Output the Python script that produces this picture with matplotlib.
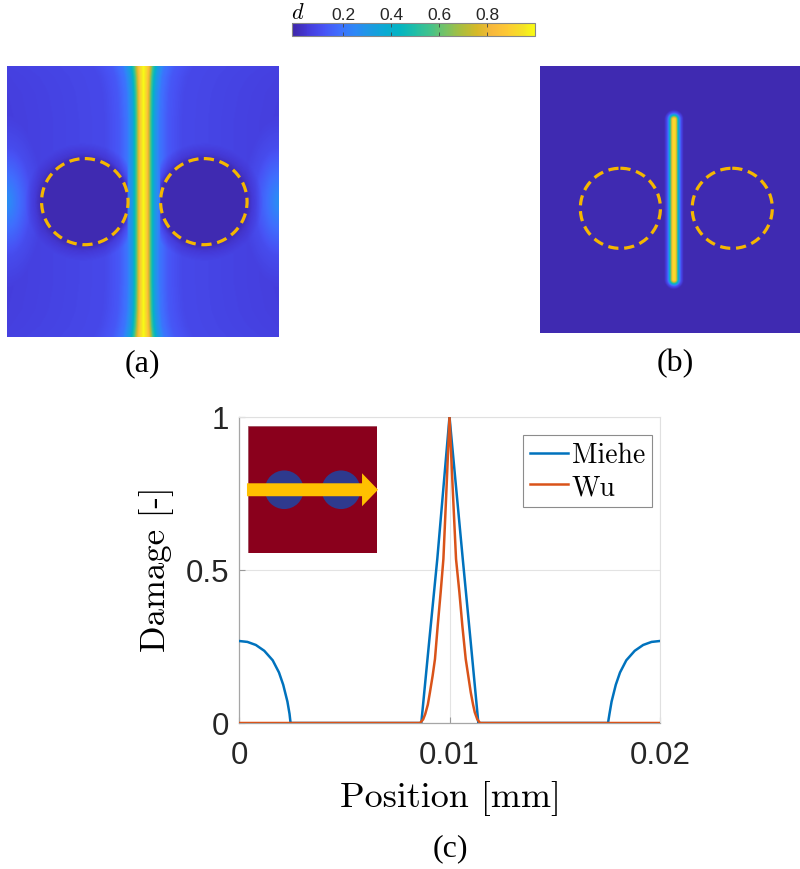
import numpy as np
import matplotlib
matplotlib.use("Agg")
import matplotlib.pyplot as plt
from matplotlib.colors import LinearSegmentedColormap, Normalize
from matplotlib.patches import Ellipse, Rectangle, Polygon
from matplotlib.cm import ScalarMappable

plt.rcParams["mathtext.fontset"] = "cm"

# ---------------- data ----------------
# line profiles of panel (c)
miehe_x = [0.0, 0.0004, 0.0008, 0.0012, 0.0016, 0.0019, 0.0021, 0.0023, 0.0024, 0.00245,
           0.00866, 0.00904, 0.00942, 0.0100, 0.01063, 0.01100, 0.01137,
           0.01753, 0.0176, 0.0177, 0.0179, 0.0181, 0.0184, 0.0188, 0.0192, 0.0196, 0.0200]
miehe_y = [0.268, 0.265, 0.255, 0.236, 0.205, 0.165, 0.125, 0.07, 0.03, 0.0,
           0.0, 0.27, 0.536, 1.0, 0.536, 0.27, 0.0,
           0.0, 0.03, 0.07, 0.125, 0.165, 0.205, 0.236, 0.255, 0.265, 0.268]
wu_x = [0.0, 0.0086, 0.00875, 0.00885, 0.00897, 0.00907, 0.00920, 0.00931, 0.00944, 0.00958,
        0.00971, 0.00986, 0.0100, 0.01015, 0.01031, 0.01047, 0.01061, 0.01077, 0.01090,
        0.01101, 0.01112, 0.0112, 0.01132, 0.01145, 0.0200]
wu_y = [0.0, 0.0, 0.012, 0.03, 0.06, 0.10, 0.155, 0.209, 0.318, 0.427,
        0.536, 0.77, 1.0, 0.77, 0.536, 0.427, 0.318, 0.209, 0.15,
        0.10, 0.06, 0.035, 0.012, 0.0, 0.0]
series_labels = ["Miehe", "Wu"]
x_ticks = [0, 0.01, 0.02]
x_ticklabels = ["0", "0.01", "0.02"]
y_ticks = [0, 0.5, 1]
y_ticklabels = ["0", "0.5", "1"]
cbar_ticks = [0.2, 0.4, 0.6, 0.8]

# panel (a) damage field description (fractions of the square domain)
a_crack_u = 0.502
a_crack_dist = [0.0, 0.01, 0.018, 0.027, 0.04, 0.06, 0.09, 0.14, 0.5]
a_crack_val = [1.0, 0.92, 0.78, 0.55, 0.33, 0.20, 0.13, 0.09, 0.06]
a_crack_v = [0.0, 0.04, 0.1, 0.2, 0.8, 0.9, 0.96, 1.0]
a_crack_widen = [1.3, 1.15, 1.05, 1.0, 1.0, 1.05, 1.15, 1.3]
a_background = 0.06
a_edge_r = [0.0, 0.5, 1.0, 1.6]
a_edge_val = [0.27, 0.18, 0.10, 0.06]
a_circles = [(0.285, 0.502, 0.159), (0.7225, 0.502, 0.159)]
a_circle_inner = 0.0
a_halo_d = [-1.0, 0.0, 0.02, 0.06]
a_halo_f = [0.0, 0.0, 0.5, 1.0]

# panel (b) damage field description
b_crack_u = 0.502
b_crack_v0, b_crack_v1 = 0.20, 0.80
b_crack_dist = [0.0, 0.007, 0.013, 0.019, 0.026, 0.036]
b_crack_val = [0.97, 0.85, 0.55, 0.30, 0.10, 0.0]
b_circles = [(0.301, 0.533, 0.150), (0.720, 0.533, 0.150)]

# ---------------- parula-like colormap ----------------
parula_pts = [
    (0.000, (0.2422, 0.1504, 0.6603)),
    (0.063, (0.2691, 0.2308, 0.8538)),
    (0.127, (0.2810, 0.3228, 0.9579)),
    (0.190, (0.2500, 0.4300, 0.9950)),
    (0.254, (0.1800, 0.5300, 0.9700)),
    (0.317, (0.1137, 0.6004, 0.8912)),
    (0.381, (0.0400, 0.6660, 0.8300)),
    (0.444, (0.0140, 0.7081, 0.7580)),
    (0.508, (0.1300, 0.7450, 0.6500)),
    (0.571, (0.2718, 0.7623, 0.5395)),
    (0.635, (0.4780, 0.7611, 0.3843)),
    (0.698, (0.6724, 0.7432, 0.2425)),
    (0.762, (0.8394, 0.7262, 0.1549)),
    (0.825, (0.9728, 0.7233, 0.2379)),
    (0.889, (0.9942, 0.7922, 0.2031)),
    (0.952, (0.9603, 0.8884, 0.1471)),
    (1.000, (0.9769, 0.9839, 0.0805)),
]
parula = LinearSegmentedColormap.from_list("parula", parula_pts)

fig = plt.figure(figsize=(8, 8.7), dpi=100)
W, H = 800.0, 870.0


def px_axes(x0, y0, x1, y1):
    return fig.add_axes([x0 / W, 1 - y1 / H, (x1 - x0) / W, (y1 - y0) / H])


# ---------------- panel (a) ----------------
n = 300
g = (np.arange(n) + 0.5) / n
U, V = np.meshgrid(g, g)
widen = np.interp(V, a_crack_v, a_crack_widen)
crack_a = np.interp(np.abs(U - a_crack_u) / widen, a_crack_dist, a_crack_val)
edge_d = np.minimum(U, 1 - U)
r_edge = np.sqrt((edge_d / 0.09) ** 2 + ((V - 0.5) / 0.2) ** 2)
bg = np.maximum(a_background, np.interp(r_edge, a_edge_r, a_edge_val))
factor = np.ones_like(U)
for cx, cy, r in a_circles:
    d = np.sqrt((U - cx) ** 2 + (V - cy) ** 2) - r
    factor = np.minimum(factor, np.interp(d, a_halo_d, a_halo_f))
field_a = a_circle_inner + (np.maximum(crack_a, bg) - a_circle_inner) * np.maximum(factor, 0.0)
field_a = np.maximum(field_a, np.where(crack_a > 0.2, crack_a, 0.0))

ax_a = px_axes(7.3, 66.7, 279.3, 337.5)
ax_a.imshow(field_a, cmap=parula, vmin=-0.013, vmax=1.0, extent=[0, 1, 1, 0],
            interpolation="bilinear", aspect="auto")
for cx, cy, r in a_circles:
    ax_a.add_patch(Ellipse((cx, cy), 2 * r, 2 * r, fill=False, ec="#F5B700",
                           lw=2.3, ls=(0, (3.2, 1.8))))
ax_a.set_xlim(0, 1)
ax_a.set_ylim(1, 0)
ax_a.axis("off")

# ---------------- panel (b) ----------------
vv = np.clip(V, b_crack_v0, b_crack_v1)
dist_b = np.sqrt((U - b_crack_u) ** 2 + (V - vv) ** 2)
field_b = np.interp(dist_b, b_crack_dist, b_crack_val)
ax_b = px_axes(540, 67, 807, 334)
ax_b.imshow(field_b, cmap=parula, vmin=-0.013, vmax=1.0, extent=[0, 1, 1, 0],
            interpolation="bilinear", aspect="auto")
for cx, cy, r in b_circles:
    ax_b.add_patch(Ellipse((cx, cy), 2 * r, 2 * r, fill=False, ec="#F5B700",
                           lw=2.3, ls=(0, (3.2, 1.8))))
ax_b.set_xlim(0, 1)
ax_b.set_ylim(1, 0)
ax_b.axis("off")

# ---------------- colorbar ----------------
cax = px_axes(292.3, 24, 535, 37.3)
sm = ScalarMappable(norm=Normalize(-0.013, 1.0), cmap=parula)
cb = fig.colorbar(sm, cax=cax, orientation="horizontal", ticks=cbar_ticks)
cb.ax.xaxis.set_ticks_position("both")
cb.ax.tick_params(axis="x", direction="in", length=3, width=0.6, color="#444444",
                  labeltop=True, labelbottom=False, labelsize=12.5, pad=1,
                  labelcolor="#262626")
cb.ax.set_xticklabels([f"{t:.1f}" for t in cbar_ticks])
for lab in cb.ax.get_xticklabels():
    lab.set_family("Liberation Sans")
cb.outline.set_edgecolor("#888888")
cb.outline.set_linewidth(0.8)
fig.text(298 / W, 1 - 13 / H, "$d$", ha="center", va="center", size=16)

# ---------------- panel labels ----------------
for txt, x, y in [("(a)", 142, 364), ("(b)", 675, 364), ("(c)", 450, 849)]:
    fig.text(x / W, 1 - y / H, txt, ha="center", va="center",
             family="Liberation Serif", size=23)

# ---------------- panel (c) ----------------
ax = px_axes(239, 418, 660, 724)
ax.plot(miehe_x, miehe_y, color="#0072BD", lw=1.8, label=series_labels[0], zorder=3)
ax.plot(wu_x, wu_y, color="#D95319", lw=1.8, label=series_labels[1], zorder=4)
ax.set_xlim(0, 0.02)
ax.set_ylim(0, 1)
ax.set_xticks(x_ticks)
ax.set_xticklabels(x_ticklabels)
ax.set_yticks(y_ticks)
ax.set_yticklabels(y_ticklabels)
ax.grid(True, color="#e3e3e3", lw=0.8)
ax.set_axisbelow(True)
ax.tick_params(direction="in", length=4, width=0.8, color="#999999",
               labelsize=22.5, labelcolor="#262626")
ax.tick_params(axis="x", pad=12)
ax.tick_params(axis="y", pad=7)
for lab in ax.get_xticklabels() + ax.get_yticklabels():
    lab.set_family("Liberation Sans")
for s in ["left", "bottom"]:
    ax.spines[s].set_color("#a6a6a6")
    ax.spines[s].set_linewidth(0.9)
for s in ["top", "right"]:
    ax.spines[s].set_color("#e0e0e0")
    ax.spines[s].set_linewidth(0.8)

leg = ax.legend(loc="upper right", bbox_to_anchor=(652 / W, 1 - 436 / H),
                bbox_transform=fig.transFigure, borderaxespad=0,
                prop={"family": "cmr10", "size": 20}, fancybox=False,
                handlelength=1.35, handletextpad=0.15, labelspacing=0.2,
                borderpad=0.25, framealpha=1)
leg.get_frame().set_edgecolor("#8c8c8c")
leg.get_frame().set_linewidth(0.8)

fig.text(450 / W, 1 - 799 / H, "Position [mm]", ha="center", va="center",
         family="cmr10", size=26)
fig.text(157 / W, 1 - 569 / H, "Damage [-]", ha="center", va="center",
         family="cmr10", size=25, rotation=90)

# inset schematic
ax_in = px_axes(248, 427, 377, 554)
ax_in.set_xlim(0, 1)
ax_in.set_ylim(0, 1)
ax_in.axis("off")
ax_in.add_patch(Rectangle((0, 0), 1, 1, fc="#8A001C", ec="#a05060", lw=0.6))
for cx in (0.281, 0.721):
    ax_in.add_patch(Ellipse((cx, 0.498), 0.30, 0.304, fc="#2E3A8E", ec="none"))
arrow = Polygon([(-0.008, 0.447), (0.884, 0.447), (0.884, 0.368), (1.008, 0.498),
                 (0.884, 0.628), (0.884, 0.549), (-0.008, 0.549)],
                closed=True, fc="#FFC000", ec="none", clip_on=False)
ax_in.add_patch(arrow)

fig.savefig("out.png", dpi=100)
